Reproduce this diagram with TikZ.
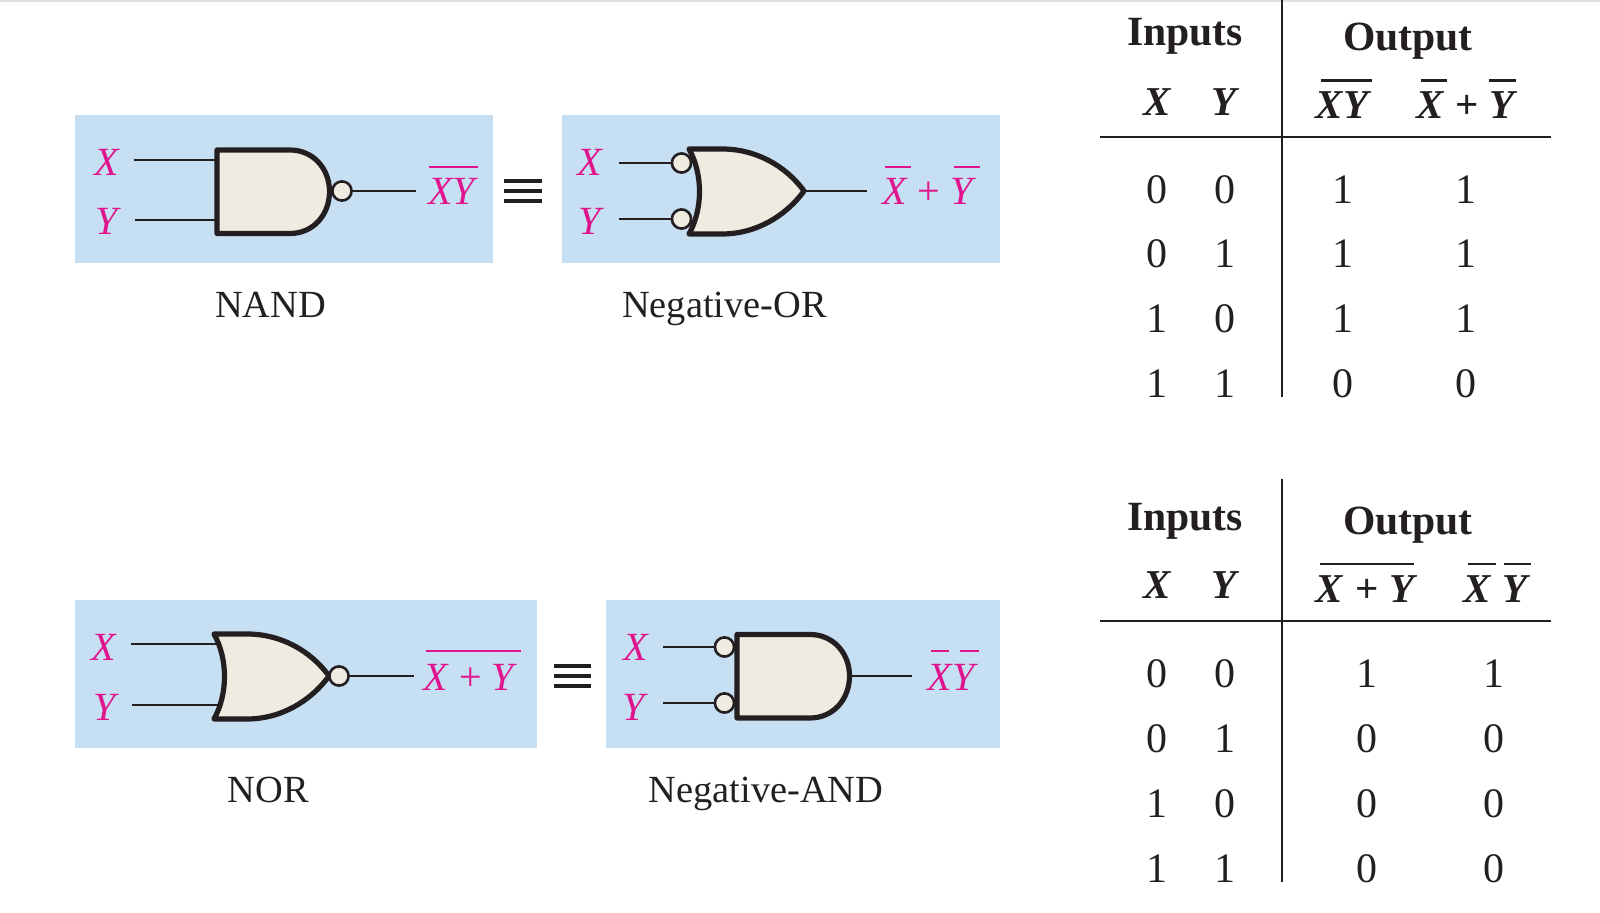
\documentclass[tikz,border=0pt]{standalone}
\usepackage{fontspec}
\setmainfont{Liberation Serif}
\definecolor{panelblue}{HTML}{C6DFF3}
\definecolor{gatefill}{HTML}{F0EBE0}
\definecolor{labelpink}{HTML}{E0148C}
\definecolor{ink}{HTML}{231F20}
\tikzset{
  panelbox/.style={fill=panelblue,draw=none},
  gateshape/.style={draw=ink,fill=gatefill,line width=2.6pt,line join=round},
  wire/.style={draw=ink,line width=1.4pt},
  bub/.style={circle,draw=ink,fill=gatefill,line width=1.3pt,minimum size=9.6pt,inner sep=0pt,outer sep=0pt},
  sig/.style={text=labelpink,inner sep=0pt,anchor=base,font=\fontsize{20}{20}\selectfont\itshape},
  sigplus/.style={text=labelpink,inner sep=0pt,anchor=base,font=\fontsize{20}{20}\selectfont},
  sigbar/.style={draw=labelpink,line width=1.1pt},
  captiontext/.style={text=ink,inner sep=0pt,anchor=base,font=\fontsize{19.2}{19.2}\selectfont},
  headtext/.style={text=ink,inner sep=0pt,anchor=base,font=\fontsize{20.8}{20.8}\selectfont\bfseries},
  vartext/.style={text=ink,inner sep=0pt,anchor=base,font=\fontsize{20.5}{20.5}\selectfont\bfseries\itshape},
  varplus/.style={text=ink,inner sep=0pt,anchor=base,font=\fontsize{20.5}{20.5}\selectfont\bfseries},
  digit/.style={text=ink,inner sep=0pt,anchor=base,font=\fontsize{21}{21}\selectfont},
  tablerule/.style={draw=ink,line width=1.4pt},
  varbar/.style={draw=ink,line width=1.2pt},
  eqbar/.style={draw=ink,line width=2.3pt},
}
\newcommand{\andpath}{(0,0) -- (73,0) .. controls (96,0) and (112.5,18.5) .. (112.5,41.5) .. controls (112.5,65) and (96,83.5) .. (73,83.5) -- (0,83.5) -- cycle}
\newcommand{\orpath}{(0,0) -- (33,0) .. controls (66,0) and (96,16) .. (115,42) .. controls (96,68) and (66,85) .. (33,85) -- (0,85) .. controls (14,60) and (14,25) .. (0,0) -- cycle}
\begin{document}
\begin{tikzpicture}[x=0.5pt,y=-0.5pt]
\useasboundingbox (0,0) rectangle (1600,913);
\fill[gray!25] (0,0) rectangle (1600,2);
% panels
\fill[panelbox] (75,115) rectangle (493,263);
\fill[panelbox] (562,115) rectangle (1000,263);
\fill[panelbox] (75,600) rectangle (537,748);
\fill[panelbox] (606,600) rectangle (1000,748);
% NAND
\coordinate (nandXa) at (133.5,160); \coordinate (nandXb) at (217,160);
\coordinate (nandYa) at (134.5,220); \coordinate (nandYb) at (217,220);
\coordinate (nandOut) at (416,191);
\draw[wire] (nandXa) -- (nandXb); \draw[wire] (nandYa) -- (nandYb);
\draw[gateshape,shift={(217,150)}] \andpath;
\node[bub] (nandB) at (342,191) {};
\draw[wire] (nandB) -- (nandOut);
\node[sig] (nandX) at (107,176) {X}; \node[sig] (nandY) at (107,235) {Y};
\node[sig] (nandF) at (451.5,205) {XY};
\draw[sigbar] (429,167) -- (478,167);
% Negative-OR
\node[bub] (nobA) at (681.5,163) {}; \node[bub] (nobB) at (681.5,219) {};
\coordinate (nobXa) at (618.5,163); \coordinate (nobYa) at (618.5,219);
\coordinate (nobO) at (804,191); \coordinate (nobOut) at (867,191);
\draw[wire] (nobXa) -- (nobA); \draw[wire] (nobYa) -- (nobB);
\draw[wire] (nobO) -- (nobOut);
\draw[gateshape,shift={(689,149)}] \orpath;
\node[sig] (nobX) at (590,176) {X}; \node[sig] (nobY) at (590,235) {Y};
\node[sig] (nobF1) at (895,205) {X}; \node[sigplus] (nobF2) at (929,205) {+}; \node[sig] (nobF3) at (962,205) {Y};
\draw[sigbar] (885,167) -- (911,167); \draw[sigbar] (954,167) -- (980,167);
% equivalence top
\draw[eqbar] (504,181) -- (542,181); \draw[eqbar] (504,191) -- (542,191); \draw[eqbar] (504,201) -- (542,201);
% NOR
\coordinate (norXa) at (130.5,644); \coordinate (norXb) at (222,644);
\coordinate (norYa) at (131.5,705); \coordinate (norYb) at (222,705);
\coordinate (norOut) at (414,676);
\draw[wire] (norXa) -- (norXb); \draw[wire] (norYa) -- (norYb);
\draw[gateshape,shift={(214,634)}] \orpath;
\node[bub] (norB) at (339,676) {};
\draw[wire] (norB) -- (norOut);
\node[sig] (norX) at (104,661) {X}; \node[sig] (norY) at (104.5,720) {Y};
\node[sig] (norF1) at (436,690) {X}; \node[sigplus] (norF2) at (471,690) {+}; \node[sig] (norF3) at (503,690) {Y};
\draw[sigbar] (426,651) -- (520.5,651);
% Negative-AND
\node[bub] (nabA) at (724.5,647) {}; \node[bub] (nabB) at (724.5,703) {};
\coordinate (nabXa) at (663,647); \coordinate (nabYa) at (663,703);
\coordinate (nabO) at (850,676); \coordinate (nabOut) at (912,676);
\draw[wire] (nabXa) -- (nabA); \draw[wire] (nabYa) -- (nabB);
\draw[wire] (nabO) -- (nabOut);
\draw[gateshape,shift={(737,634.5)}] \andpath;
\node[sig] (nabX) at (635.5,661) {X}; \node[sig] (nabY) at (634,720) {Y};
\node[sig] (nabF1) at (940,690) {X}; \node[sig] (nabF2) at (964,690) {Y};
\draw[sigbar] (931,651) -- (949,651); \draw[sigbar] (960,651) -- (978.5,651);
% equivalence bottom
\draw[eqbar] (554,666) -- (591,666); \draw[eqbar] (554,676) -- (591,676); \draw[eqbar] (554,686) -- (591,686);
% captions
\node[captiontext] (capA) at (270.5,318) {NAND};
\node[captiontext] (capB) at (724.5,318) {Negative-OR};
\node[captiontext] (capC) at (268.5,802) {NOR};
\node[captiontext] (capD) at (766,802) {Negative-AND};
% table 1
\draw[tablerule] (1282,0) -- (1282,397);
\draw[tablerule] (1100,137) -- (1551,137);
\node[headtext] (t1in) at (1185,46) {Inputs};
\node[headtext] (t1out) at (1408,50.5) {Output};
\node[vartext] (t1x) at (1157,116) {X}; \node[vartext] (t1y) at (1224,116) {Y};
\node[vartext] (t1f) at (1342,119) {XY};
\draw[varbar] (1320.5,80.5) -- (1372,80.5);
\node[vartext] (t1g1) at (1430,119) {X}; \node[varplus] (t1g2) at (1467,119) {+}; \node[vartext] (t1g3) at (1502,119) {Y};
\draw[varbar] (1420.5,80.5) -- (1447,80.5); \draw[varbar] (1489,80.5) -- (1515.5,80.5);
\foreach \r/\yy/\a/\b/\c/\d in {1/204/0/0/1/1,2/268/0/1/1/1,3/333/1/0/1/1,4/397.5/1/1/0/0}{
  \node[digit] (t1a\r) at (1157,\yy) {\a};
  \node[digit] (t1b\r) at (1224.5,\yy) {\b};
  \node[digit] (t1c\r) at (1343,\yy) {\c};
  \node[digit] (t1d\r) at (1465.5,\yy) {\d};
}
% table 2
\draw[tablerule] (1282,479) -- (1282,882);
\draw[tablerule] (1100,621) -- (1551,621);
\node[headtext] (t2in) at (1185,530.5) {Inputs};
\node[headtext] (t2out) at (1408,534.5) {Output};
\node[vartext] (t2x) at (1157,599) {X}; \node[vartext] (t2y) at (1224,599) {Y};
\node[vartext] (t2f1) at (1329,603) {X}; \node[varplus] (t2f2) at (1367,603) {+}; \node[vartext] (t2f3) at (1402,603) {Y};
\draw[varbar] (1320,564) -- (1414,564);
\node[vartext] (t2g1) at (1477,603) {X}; \node[vartext] (t2g2) at (1515,603) {Y};
\draw[varbar] (1468,564) -- (1496,564); \draw[varbar] (1504,564) -- (1531,564);
\foreach \r/\yy/\a/\b/\c/\d in {1/688/0/0/1/1,2/752.5/0/1/0/0,3/817.5/1/0/0/0,4/882/1/1/0/0}{
  \node[digit] (t2a\r) at (1157,\yy) {\a};
  \node[digit] (t2b\r) at (1224.5,\yy) {\b};
  \node[digit] (t2c\r) at (1366.5,\yy) {\c};
  \node[digit] (t2d\r) at (1493.5,\yy) {\d};
}
\end{tikzpicture}
\end{document}
